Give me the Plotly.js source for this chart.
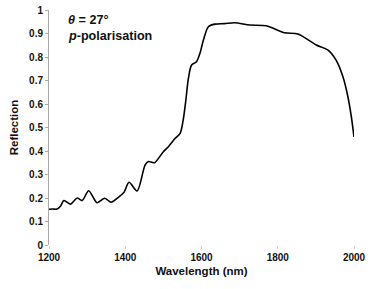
<!DOCTYPE html>
<html>
<head>
<meta charset="utf-8">
<script src="https://cdn.plot.ly/plotly-3.0.1.min.js"></script>
<style>html,body{margin:0;padding:0;background:#fff;}#chart{width:374px;height:289px;}</style>
</head>
<body>
<div id="chart"></div>
<script>
const wavelength = [1200,1210,1221,1230,1239,1256,1274,1287,1304,1326,1346,1363,1382,1397,1410,1431,1452,1461,1470,1477,1500,1513,1531,1544,1552,1559,1565,1574,1587,1596,1605,1618,1635,1660,1687,1727,1770,1818,1853,1901,1931,1953,1971,1984,1993,2000];
const reflection = [0.152,0.153,0.153,0.165,0.189,0.174,0.200,0.189,0.231,0.180,0.199,0.182,0.203,0.225,0.267,0.230,0.340,0.355,0.352,0.350,0.397,0.418,0.454,0.475,0.532,0.617,0.702,0.766,0.780,0.816,0.872,0.929,0.940,0.942,0.946,0.936,0.933,0.903,0.898,0.851,0.830,0.787,0.716,0.631,0.546,0.460];
const xTicks = [1200,1400,1600,1800,2000];
const yTicks = [0,0.1,0.2,0.3,0.4,0.5,0.6,0.7,0.8,0.9,1];
const yTickText = ['0','0.1','0.2','0.3','0.4','0.5','0.6','0.7','0.8','0.9','1'];

const font = 'Arial, "Liberation Sans", sans-serif';
Plotly.newPlot('chart', [{
  x: wavelength, y: reflection, type: 'scatter', mode: 'lines',
  line: {color: '#000', width: 1.6, shape: 'spline', smoothing: 0.8},
  hoverinfo: 'none'
}], {
  width: 374, height: 289,
  margin: {l: 48.5, r: 19.5, t: 10, b: 44},
  paper_bgcolor: '#fff', plot_bgcolor: '#fff',
  showlegend: false,
  font: {family: font, color: '#111'},
  xaxis: {
    range: [1200, 2000], tickvals: xTicks, ticktext: xTicks.map(String),
    showgrid: false, zeroline: false, showline: false,
    ticks: 'outside', ticklen: 3, tickcolor: '#ccc',
    tickfont: {family: font, size: 10, color: '#111', weight: 'bold'},
    title: {text: '<b>Wavelength (nm)</b>', font: {family: font, size: 11.5, color: '#111'}, standoff: 4}
  },
  yaxis: {
    range: [0, 1], tickvals: yTicks, ticktext: yTickText,
    showgrid: false, zeroline: false, showline: true, linecolor: '#aaa', linewidth: 1,
    ticks: 'outside', ticklen: 3, tickcolor: '#aaa',
    tickfont: {family: font, size: 10, color: '#111', weight: 'bold'},
    title: {text: '<b>Reflection</b>', font: {family: font, size: 11.5, color: '#111'}, standoff: 8}
  },
  annotations: [
    {xref: 'paper', yref: 'paper', x: 0.056, y: 0.958, xanchor: 'left', yanchor: 'middle', showarrow: false,
     text: '<b><i>θ</i> = 27°</b>', font: {family: font, size: 12.6, color: '#111'}},
    {xref: 'paper', yref: 'paper', x: 0.056, y: 0.889, xanchor: 'left', yanchor: 'middle', showarrow: false,
     text: '<b><i>p</i>-polarisation</b>', font: {family: font, size: 12.6, color: '#111'}}
  ]
}, {displayModeBar: false, staticPlot: true});
</script>
</body>
</html>
